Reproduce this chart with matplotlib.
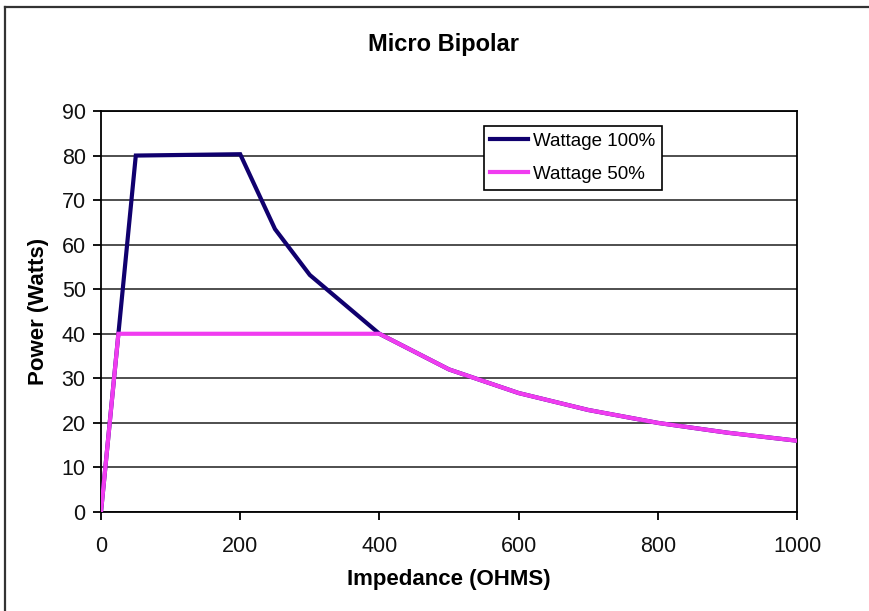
import numpy as np
import matplotlib.pyplot as plt
from matplotlib.lines import Line2D

plt.rcParams['font.family'] = ['Liberation Sans', 'DejaVu Sans']

# impedance (ohms) and power (watts)
ohms_100 = [0, 50, 200, 250, 300, 400, 500, 600, 700, 800, 900, 1000]
watts_100 = [0, 80, 80.3, 63.5, 53.2, 40, 32, 26.7, 22.9, 20, 17.8, 16]

ohms_50 = [0, 25, 400, 500, 600, 700, 800, 900, 1000]
watts_50 = [0, 40, 40, 32, 26.7, 22.9, 20, 17.8, 16]

labels = ['Wattage 100%', 'Wattage 50%']
colors = ['#10006e', '#f03cf0']

fig = plt.figure(figsize=(8.7, 6.11), dpi=100)
ax = fig.add_axes([101/870, 1 - 512/611, 696/870, 401/611])

ax.plot(ohms_100, watts_100, color=colors[0], lw=3, label=labels[0],
        solid_joinstyle='miter', zorder=3)
ax.plot(ohms_50, watts_50, color=colors[1], lw=3, label=labels[1],
        solid_joinstyle='miter', zorder=4)

ax.set_xlim(0, 1000)
ax.set_ylim(0, 90)
ax.set_xticks(np.arange(0, 1001, 200))
ax.set_yticks(np.arange(0, 91, 10))
ax.yaxis.grid(True, color='#404040', lw=1.3)
ax.set_axisbelow(True)
for s in ax.spines.values():
    s.set_color('black')
    s.set_linewidth(1.3)
ax.tick_params(axis='both', labelsize=15.5, length=6, width=1.3,
               direction='out', color='black', labelcolor='#111111')
ax.tick_params(axis='x', pad=11)
ax.tick_params(axis='y', pad=5)

ax.set_xlabel('Impedance (OHMS)', fontsize=16, fontweight='bold', labelpad=9)
ax.set_ylabel('Power (Watts)', fontsize=16, fontweight='bold', labelpad=9)
fig.text(443/870, 1 - 44/611, 'Micro Bipolar', fontsize=17, fontweight='bold',
         ha='center', va='center')

leg = ax.legend(loc='upper left', bbox_to_anchor=(0.550, 0.962), fontsize=13.5,
                frameon=True, fancybox=False, edgecolor='black', framealpha=1,
                handlelength=2.0, borderpad=0.35, labelspacing=0.85,
                handletextpad=0.3, borderaxespad=0)
leg.get_frame().set_linewidth(1.2)

# outer chart border (left and top edges)
fig.add_artist(Line2D([5/870, 5/870], [0, 1 - 7/611], color='#333333', lw=1.6))
fig.add_artist(Line2D([5/870, 1], [1 - 7/611, 1 - 7/611], color='#333333', lw=1.6))

fig.savefig('out.png', dpi=100)
